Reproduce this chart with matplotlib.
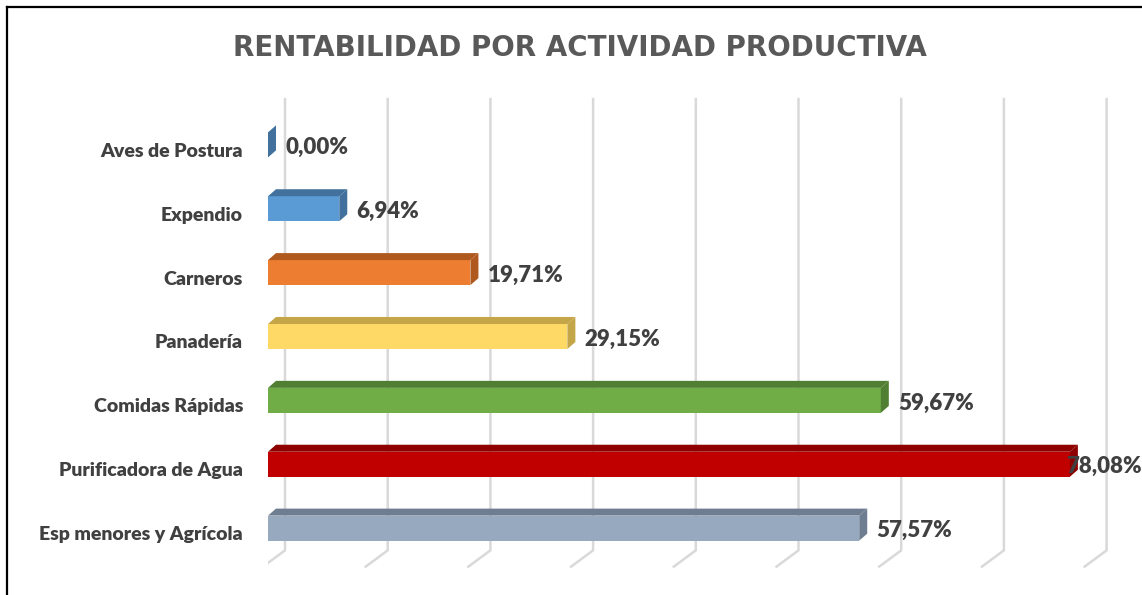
import matplotlib
matplotlib.use("Agg")
import matplotlib.pyplot as plt
from matplotlib.patches import Polygon
from matplotlib.lines import Line2D

# datos
actividades = ["Aves de Postura", "Expendio", "Carneros", "Panadería",
               "Comidas Rápidas", "Purificadora de Agua", "Esp menores y Agrícola"]
rentabilidad = [0.00, 6.94, 19.71, 29.15, 59.67, 78.08, 57.57]
ticks = [0, 10, 20, 30, 40, 50, 60, 70, 80]

color_frente = ["#5b9bd5", "#5b9bd5", "#ed7d31", "#ffd966", "#70ad47", "#c00000", "#97a9bf"]
color_lado = ["#41719c", "#41719c", "#b0591f", "#c4a547", "#507e32", "#8e0000", "#6f7d90"]

W, H = 1142, 595
fig = plt.figure(figsize=(W / 100, H / 100), dpi=100)
fig.patch.set_facecolor("white")

# eje: 0% en x=268px, 10.27 px por punto; categorias cada 63.8 px
px_x = 10.27
px_y = 63.8
ax = fig.add_axes([268 / W, 3 / H, (W - 268) / W, 511 / H])
ax.set_xlim(0, (W - 268) / px_x)
ax.set_ylim(7, -1)
ax.axis("off")

h = 25 / px_y          # alto de la cara frontal
dx = 8 / px_x          # profundidad de la barra
dy = 7 / px_y
gdx = 17 / px_x        # desplazamiento de la pared del fondo
g_top = (98 - 81.2) / px_y - 1
g_bot = (550 - 81.2) / px_y - 1
g_end = (567 - 81.2) / px_y - 1

# lineas de division (pared del fondo + suelo)
for t in ticks:
    ax.plot([t + gdx, t + gdx, t + gdx - 23 / px_x], [g_top, g_bot, g_end],
            color="#d9d9d9", lw=1.8, zorder=1, solid_capstyle="butt")

pos = list(range(len(actividades)))
ax.barh(pos, rentabilidad, height=h, color=color_frente, zorder=3,
        edgecolor="none")

for i, v in enumerate(rentabilidad):
    top = i - h / 2
    bot = i + h / 2
    ax.add_patch(Polygon([(0, top), (v, top), (v + dx, top - dy), (dx, top - dy)],
                         closed=True, facecolor=color_lado[i], edgecolor="none", zorder=3))
    ax.add_patch(Polygon([(v, top), (v + dx, top - dy), (v + dx, bot - dy), (v, bot)],
                         closed=True, facecolor=color_lado[i], edgecolor="none", zorder=3))

    etiqueta = f"{v:.2f}%".replace(".", ",")
    xl = v + 1.7
    ha = "left"
    if xl + 7 > ax.get_xlim()[1]:
        xl = ax.get_xlim()[1]
        ha = "right"
    ax.text(xl, i + 0.04, etiqueta, ha=ha, va="center", fontsize=16,
            fontweight="heavy", color="#404040", family="Lato", zorder=4)

    ax.text(-25 / px_x, i + 0.1, actividades[i], ha="right", va="center",
            fontsize=14, fontweight="heavy", color="#404040", family="Lato",
            clip_on=False)

fig.text(0.5075, 1 - 48 / H, "RENTABILIDAD POR ACTIVIDAD PRODUCTIVA",
         ha="center", va="center", fontsize=20, fontweight="bold",
         color="#595959", family="DejaVu Sans")

# marco del area del grafico
fig.add_artist(Line2D([6.5 / W, 1], [1 - 6.5 / H, 1 - 6.5 / H], color="black", lw=1.6))
fig.add_artist(Line2D([6.5 / W, 6.5 / W], [0, 1 - 6.5 / H], color="black", lw=1.6))

fig.savefig("out.png", dpi=100)
